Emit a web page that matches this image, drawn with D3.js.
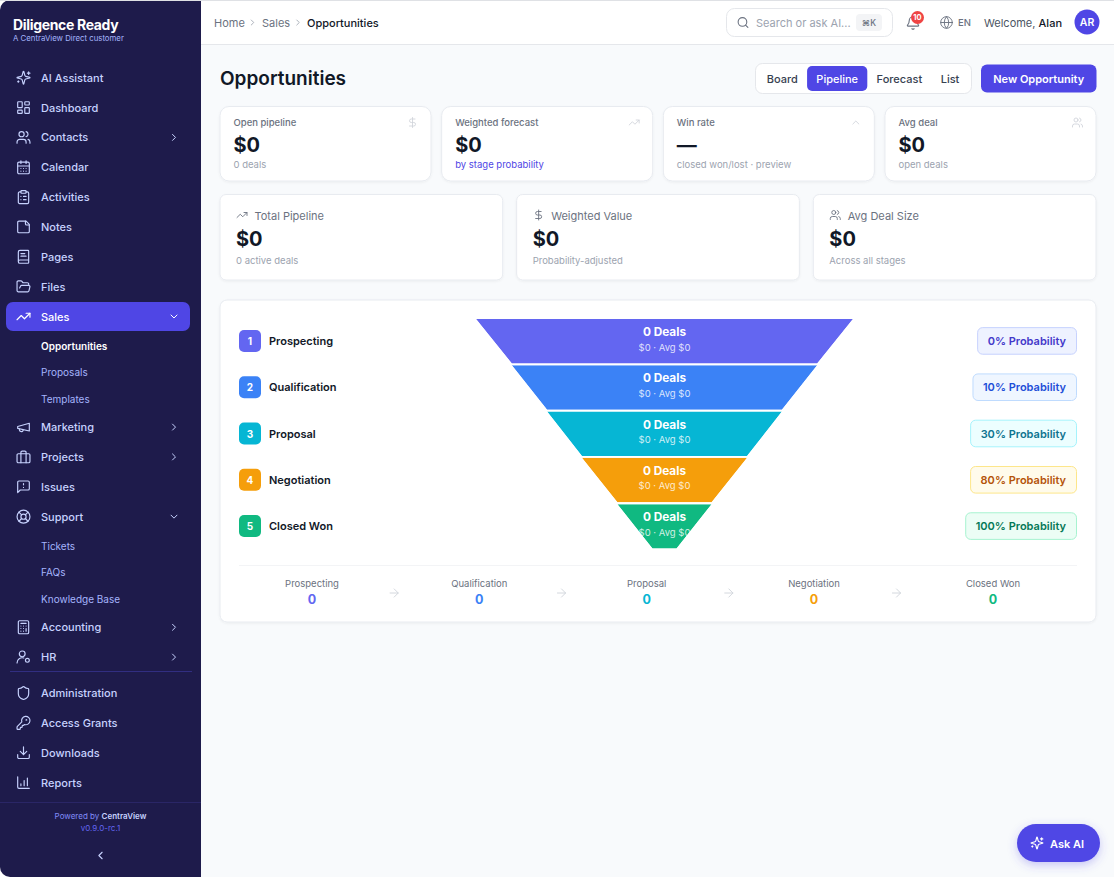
<!DOCTYPE html>
<html>
<head>
<meta charset="utf-8">
<title>Opportunities</title>
<script src="https://cdn.jsdelivr.net/npm/d3@7/dist/d3.min.js"></script>
<style>
  html, body { margin: 0; padding: 0; background: #fff; overflow: hidden; }
  svg { display: block; font-family: Inter, "Noto Sans", sans-serif; }
  text { dominant-baseline: central; }
</style>
</head>
<body>
<div id="chart"></div>
<script>
// ---- data ----
const stages = ['Prospecting', 'Qualification', 'Proposal', 'Negotiation', 'Closed Won'];
const stageColors = ['#6366f1', '#3b82f6', '#06b6d4', '#f59e0b', '#10b981'];
const stageDeals = [0, 0, 0, 0, 0];
const stageValues = [0, 0, 0, 0, 0];
const stageAvg = [0, 0, 0, 0, 0];
const stageProbability = [0, 10, 30, 80, 100];
// funnel outline width in percent of the top edge, one more entry than stages
const funnelEdges = [100, 81, 62.3, 43.8, 25, 6.4];

const pillFills = ['#eef2ff', '#eff6ff', '#ecfeff', '#fffbeb', '#ecfdf5'];
const pillBorders = ['#c7d2fe', '#bfdbfe', '#a5f3fc', '#fde68a', '#a7f3d0'];
const pillTexts = ['#4338ca', '#1d4ed8', '#0e7490', '#b45309', '#047857'];

const kpiLabels = ['Open pipeline', 'Weighted forecast', 'Win rate', 'Avg deal'];
const kpiValues = ['$0', '$0', '—', '$0'];
const kpiNotes = ['0 deals', 'by stage probability', 'closed won/lost · preview', 'open deals'];
const kpiIcons = ['dollar', 'trending', 'chevronUp', 'users'];

const totalLabels = ['Total Pipeline', 'Weighted Value', 'Avg Deal Size'];
const totalValues = ['$0', '$0', '$0'];
const totalNotes = ['0 active deals', 'Probability-adjusted', 'Across all stages'];
const totalIcons = ['trending', 'dollar', 'users'];

const viewTabs = ['Board', 'Pipeline', 'Forecast', 'List'];
const activeTab = 'Pipeline';

const navItems = [
  { label: 'AI Assistant', icon: 'sparkles' },
  { label: 'Dashboard', icon: 'dashboard' },
  { label: 'Contacts', icon: 'users', chevron: 'right' },
  { label: 'Calendar', icon: 'calendar' },
  { label: 'Activities', icon: 'clipboard' },
  { label: 'Notes', icon: 'note' },
  { label: 'Pages', icon: 'book' },
  { label: 'Files', icon: 'folder' },
  { label: 'Sales', icon: 'trending', chevron: 'down', active: true, children: ['Opportunities', 'Proposals', 'Templates'] },
  { label: 'Marketing', icon: 'megaphone', chevron: 'right' },
  { label: 'Projects', icon: 'briefcase', chevron: 'right' },
  { label: 'Issues', icon: 'message' },
  { label: 'Support', icon: 'lifebuoy', chevron: 'down', children: ['Tickets', 'FAQs', 'Knowledge Base'] },
  { label: 'Accounting', icon: 'calculator', chevron: 'right' },
  { label: 'HR', icon: 'usercog', chevron: 'right' }
];
const navAdmin = [
  { label: 'Administration', icon: 'shield' },
  { label: 'Access Grants', icon: 'key' },
  { label: 'Downloads', icon: 'download' },
  { label: 'Reports', icon: 'bars' }
];

// lucide style glyphs on a 24 box
const icons = {
  sparkles: '<path d="M9.937 15.5A2 2 0 0 0 8.5 14.063l-6.135-1.582a.5.5 0 0 1 0-.962L8.5 9.936A2 2 0 0 0 9.937 8.5l1.582-6.135a.5.5 0 0 1 .963 0L14.063 8.5A2 2 0 0 0 15.5 9.937l6.135 1.581a.5.5 0 0 1 0 .964L15.5 14.063a2 2 0 0 0-1.437 1.437l-1.582 6.135a.5.5 0 0 1-.963 0z"/><path d="M20 3v4M22 5h-4M4 17v2M5 18H3"/>',
  dashboard: '<rect x="3" y="3" width="7" height="9" rx="1"/><rect x="14" y="3" width="7" height="5" rx="1"/><rect x="14" y="12" width="7" height="9" rx="1"/><rect x="3" y="16" width="7" height="5" rx="1"/>',
  users: '<path d="M16 21v-2a4 4 0 0 0-4-4H6a4 4 0 0 0-4 4v2"/><circle cx="9" cy="7" r="4"/><path d="M22 21v-2a4 4 0 0 0-3-3.87M16 3.13a4 4 0 0 1 0 7.75"/>',
  calendar: '<path d="M8 2v4M16 2v4"/><rect x="3" y="4" width="18" height="18" rx="2"/><path d="M3 10h18M8 14h.01M12 14h.01M16 14h.01M8 18h.01M12 18h.01M16 18h.01"/>',
  clipboard: '<rect x="8" y="2" width="8" height="4" rx="1"/><path d="M16 4h2a2 2 0 0 1 2 2v14a2 2 0 0 1-2 2H6a2 2 0 0 1-2-2V6a2 2 0 0 1 2-2h2M12 11h4M12 16h4M8 11h.01M8 16h.01"/>',
  note: '<path d="M16 3H5a2 2 0 0 0-2 2v14a2 2 0 0 0 2 2h14a2 2 0 0 0 2-2V8Z"/><path d="M15 3v4a2 2 0 0 0 2 2h4"/>',
  book: '<path d="M4 19.5v-15A2.5 2.5 0 0 1 6.5 2H19a1 1 0 0 1 1 1v18a1 1 0 0 1-1 1H6.5a1 1 0 0 1 0-5H20"/><path d="M8 7h6M8 11h8"/>',
  folder: '<path d="m6 14 1.5-2.9A2 2 0 0 1 9.24 10H20a2 2 0 0 1 1.94 2.5l-1.54 6a2 2 0 0 1-1.95 1.5H4a2 2 0 0 1-2-2V5a2 2 0 0 1 2-2h3.9a2 2 0 0 1 1.69.9l.81 1.2a2 2 0 0 0 1.67.9H18a2 2 0 0 1 2 2v2"/>',
  trending: '<path d="M22 7 13.5 15.5 8.5 10.5 2 17"/><path d="M16 7h6v6"/>',
  megaphone: '<path d="m3 11 18-5v12L3 14v-3z"/><path d="M11.6 16.8a3 3 0 1 1-5.8-1.6"/>',
  briefcase: '<rect x="2" y="7" width="20" height="14" rx="2"/><path d="M16 21V5a2 2 0 0 0-2-2h-4a2 2 0 0 0-2 2v16"/>',
  message: '<path d="M21 15a2 2 0 0 1-2 2H7l-4 4V5a2 2 0 0 1 2-2h14a2 2 0 0 1 2 2z"/><path d="M12 7v2M12 13h.01"/>',
  lifebuoy: '<circle cx="12" cy="12" r="10"/><circle cx="12" cy="12" r="4"/><path d="m4.93 4.93 4.24 4.24M14.83 9.17l4.24-4.24M14.83 14.83l4.24 4.24M9.17 14.83l-4.24 4.24"/>',
  calculator: '<rect x="4" y="2" width="16" height="20" rx="2"/><path d="M8 6h8M16 14v4M8 10h.01M12 10h.01M16 10h.01M8 14h.01M12 14h.01M8 18h.01M12 18h.01"/>',
  usercog: '<circle cx="10" cy="7" r="4.5"/><path d="M2 21a8 8 0 0 1 10.4-7.6"/><circle cx="18" cy="17" r="3"/>',
  shield: '<path d="M20 13c0 5-3.5 7.5-7.66 8.95a1 1 0 0 1-.67-.01C7.5 20.5 4 18 4 13V6a1 1 0 0 1 1-1c2 0 4.5-1.2 6.24-2.72a1.17 1.17 0 0 1 1.52 0C14.51 3.81 17 5 19 5a1 1 0 0 1 1 1z"/>',
  key: '<path d="M2.586 17.414A2 2 0 0 0 2 18.828V21a1 1 0 0 0 1 1h3a1 1 0 0 0 1-1v-1a1 1 0 0 1 1-1h1a1 1 0 0 0 1-1v-1a1 1 0 0 1 1-1h.172a2 2 0 0 0 1.414-.586l.814-.814a6.5 6.5 0 1 0-4-4z"/><circle cx="16.5" cy="7.5" r=".5"/>',
  download: '<path d="M21 15v4a2 2 0 0 1-2 2H5a2 2 0 0 1-2-2v-4M7 10l5 5 5-5M12 15V3"/>',
  bars: '<path d="M3 3v16a2 2 0 0 0 2 2h16M13 17V9M18 17V5M8 17v-3"/>',
  right: '<path d="m9 18 6-6-6-6"/>',
  down: '<path d="m6 9 6 6 6-6"/>',
  left: '<path d="m15 18-6-6 6-6"/>',
  chevronUp: '<path d="m18 15-6-6-6 6"/>',
  search: '<circle cx="11" cy="11" r="8"/><path d="m21 21-4.3-4.3"/>',
  bell: '<path d="M10.268 21a2 2 0 0 0 3.464 0"/><path d="M3.262 15.326A1 1 0 0 0 4 17h16a1 1 0 0 0 .74-1.673C19.41 13.956 18 12.499 18 8A6 6 0 0 0 6 8c0 4.499-1.411 5.956-2.738 7.326"/>',
  globe: '<circle cx="12" cy="12" r="10"/><path d="M12 2a14.5 14.5 0 0 0 0 20 14.5 14.5 0 0 0 0-20M2 12h20"/>',
  dollar: '<path d="M12 2v20M17 5H9.5a3.5 3.5 0 0 0 0 7h5a3.5 3.5 0 0 1 0 7H6"/>',
  arrow: '<path d="M5 12h14M12 5l7 7-7 7"/>'
};

// ---- helpers ----
const width = 1114;
const height = 877;
const money = d3.format('$,.0f');

const svg = d3.select('#chart').append('svg')
  .attr('width', width)
  .attr('height', height)
  .attr('viewBox', [0, 0, width, height]);

const defs = svg.append('defs');
const askShadow = defs.append('filter').attr('id', 'askShadow')
  .attr('x', '-30%').attr('y', '-30%').attr('width', '160%').attr('height', '180%');
askShadow.append('feDropShadow').attr('dx', 0).attr('dy', 3).attr('stdDeviation', 5)
  .attr('flood-color', '#4f46e5').attr('flood-opacity', 0.3);
const cardShadow = defs.append('filter').attr('id', 'cardShadow')
  .attr('x', '-5%').attr('y', '-5%').attr('width', '110%').attr('height', '115%');
cardShadow.append('feDropShadow').attr('dx', 0).attr('dy', 1).attr('stdDeviation', 1.2)
  .attr('flood-color', '#0f172a').attr('flood-opacity', 0.05);

function label(parent, x, y, str, size, weight, fill, anchor) {
  return parent.append('text')
    .attr('x', x)
    .attr('y', y)
    .attr('font-size', size)
    .attr('font-weight', weight)
    .attr('fill', fill)
    .attr('text-anchor', anchor || 'start')
    .text(str);
}

function icon(parent, name, cx, cy, size, color, strokeWidth) {
  return parent.append('g')
    .attr('transform', `translate(${cx - size / 2},${cy - size / 2}) scale(${size / 24})`)
    .attr('fill', 'none')
    .attr('stroke', color)
    .attr('stroke-width', strokeWidth || 2)
    .attr('stroke-linecap', 'round')
    .attr('stroke-linejoin', 'round')
    .html(icons[name]);
}

function card(parent, x, y, w, h, r) {
  return parent.append('rect')
    .attr('x', x).attr('y', y).attr('width', w).attr('height', h).attr('rx', r)
    .attr('fill', '#fff')
    .attr('stroke', '#e8ebf0')
    .attr('filter', 'url(#cardShadow)');
}

// ---- page frame ----
svg.append('rect').attr('width', width).attr('height', height).attr('fill', '#f8fafc');
svg.append('rect').attr('width', width).attr('height', 44).attr('fill', '#fff');
svg.append('rect').attr('y', 44).attr('width', width).attr('height', 1).attr('fill', '#e5e7eb');
svg.append('rect').attr('width', 6).attr('height', height).attr('fill', '#fff');
svg.append('rect').attr('width', 240).attr('height', height).attr('rx', 10).attr('fill', '#1e1b4b');
svg.append('rect').attr('x', 201).attr('width', 45).attr('height', height).attr('fill', '#f8fafc');
svg.append('rect').attr('x', 201).attr('width', 45).attr('height', 44).attr('fill', '#fff');
svg.append('rect').attr('x', 201).attr('y', 44).attr('width', 45).attr('height', 1).attr('fill', '#e5e7eb');
svg.append('rect').attr('width', width).attr('height', 1).attr('fill', '#dfe1e5');

// ---- sidebar ----
const side = svg.append('g');
label(side, 13, 24.5, 'Diligence Ready', 14, 700, '#fff').attr('letter-spacing', -0.33);
label(side, 13, 38, 'A CentraView Direct customer', 7.8, 400, '#a5b4fc');

function drawNav(items, startY) {
  let y = startY;
  items.forEach(function(d) {
    if (d.active) {
      side.append('rect')
        .attr('x', 6).attr('y', y - 14.5).attr('width', 184).attr('height', 29).attr('rx', 7)
        .attr('fill', '#4f46e5');
    }
    const color = d.active ? '#fff' : '#c7d2fe';
    icon(side, d.icon, 23.5, y, 15.5, color, 1.8);
    label(side, 41, y, d.label, 11, 500, color);
    if (d.chevron) {
      icon(side, d.chevron, 174, y, 12, color, 2);
    }
    if (d.children) {
      y += 3.4;
      d.children.forEach(function(c) {
        y += 26.2;
        const isCurrent = c === 'Opportunities';
        label(side, 41, y, c, 10, isCurrent ? 600 : 400, isCurrent ? '#fff' : '#a5b4fc');
      });
      y += 28.6;
    } else {
      y += 29.85;
    }
  });
}
drawNav(navItems, 77.7);
drawNav(navAdmin, 693);

side.append('rect').attr('x', 10).attr('y', 671).attr('width', 182).attr('height', 1).attr('fill', '#312e81');
side.append('rect').attr('x', 0).attr('y', 802).attr('width', 201).attr('height', 1).attr('fill', '#2a2666');

const powered = label(side, 100.5, 815.5, 'Powered by ', 8, 400, '#818cf8', 'middle');
powered.append('tspan').attr('font-weight', 600).attr('fill', '#c7d2fe').text('CentraView');
label(side, 100.5, 827.5, 'v0.9.0-rc.1', 8, 400, '#6366f1', 'middle');
icon(side, 'left', 100.5, 855.5, 13, '#c7d2fe', 2);

// ---- top bar ----
const topBar = svg.append('g');
label(topBar, 214, 22.5, 'Home', 11, 400, '#6b7280');
icon(topBar, 'right', 252.5, 22.5, 10, '#9ca3af', 2);
label(topBar, 262, 22.5, 'Sales', 11, 400, '#6b7280');
icon(topBar, 'right', 298, 22.5, 10, '#9ca3af', 2);
label(topBar, 307, 22.5, 'Opportunities', 11, 500, '#111827');

topBar.append('rect').attr('x', 726.5).attr('y', 8.5).attr('width', 166).attr('height', 28).attr('rx', 8)
  .attr('fill', '#fff').attr('stroke', '#e5e7eb');
icon(topBar, 'search', 743, 22.5, 13, '#6b7280', 2);
label(topBar, 756, 22.5, 'Search or ask AI...', 11, 400, '#9ca3af');
topBar.append('rect').attr('x', 856).attr('y', 14).attr('width', 26).attr('height', 17).attr('rx', 4).attr('fill', '#f3f4f6');
label(topBar, 869, 22.5, '⌘K', 8.5, 500, '#6b7280', 'middle');

icon(topBar, 'bell', 913, 23, 15, '#6b7280', 1.8);
topBar.append('circle').attr('cx', 917.5).attr('cy', 17.5).attr('r', 6.5).attr('fill', '#ef4444');
label(topBar, 917.5, 17.5, '10', 7.5, 700, '#fff', 'middle');
icon(topBar, 'globe', 946.5, 22.5, 14, '#6b7280', 1.6);
label(topBar, 958, 22.5, 'EN', 9.5, 500, '#6b7280');
const welcome = label(topBar, 984, 22.5, 'Welcome, ', 11, 400, '#4b5563');
welcome.append('tspan').attr('font-weight', 500).attr('fill', '#111827').text('Alan');
topBar.append('circle').attr('cx', 1087).attr('cy', 22).attr('r', 12.5).attr('fill', '#4f46e5');
label(topBar, 1087, 22.5, 'AR', 10.5, 600, '#fff', 'middle');

// ---- heading and view switch ----
const head = svg.append('g');
label(head, 220, 78.5, 'Opportunities', 19, 600, '#111827');

head.append('rect').attr('x', 755.5).attr('y', 63.5).attr('width', 216).attr('height', 30).attr('rx', 7)
  .attr('fill', '#fff').attr('stroke', '#e5e7eb');

let tabX = 757.5;
viewTabs.forEach(function(t) {
  const isActive = t === activeTab;
  const tab = label(head, 0, 78.5, t, 11, 500, isActive ? '#fff' : '#374151', 'middle');
  const w = tab.node().getComputedTextLength() + 18.5;
  if (isActive) {
    head.insert('rect', () => tab.node())
      .attr('x', tabX).attr('y', 66).attr('width', w).attr('height', 25).attr('rx', 5)
      .attr('fill', '#4f46e5');
  }
  tab.attr('x', tabX + w / 2);
  tabX += w;
});

head.append('rect').attr('x', 981).attr('y', 64.5).attr('width', 115.5).attr('height', 28).attr('rx', 6).attr('fill', '#4f46e5');
label(head, 1038.7, 78.5, 'New Opportunity', 11, 600, '#fff', 'middle');

// ---- kpi cards ----
const kpiX = d3.scaleBand().domain(kpiLabels).range([220, 1096]).paddingInner(0.048);
const kpi = svg.append('g');
kpiLabels.forEach(function(d, i) {
  const x = kpiX(d);
  const w = kpiX.bandwidth();
  card(kpi, x, 106.5, w, 74.5, 9);
  label(kpi, x + 13.5, 122.5, d, 9.5, 500, '#6b7280');
  icon(kpi, kpiIcons[i], x + w - 18.5, 122.5, 12, '#d1d5db', 1.8);
  label(kpi, x + 13.5, 144.5, kpiValues[i], 20, 700, '#111827');
  label(kpi, x + 13.5, 164.7, kpiNotes[i], 9.5, 400, i === 1 ? '#4f46e5' : '#9ca3af');
});

const totalX = d3.scaleBand().domain(totalLabels).range([220, 1096]).paddingInner(0.047);
const totals = svg.append('g');
totalLabels.forEach(function(d, i) {
  const x = totalX(d);
  card(totals, x, 194.5, totalX.bandwidth(), 85.5, 6);
  icon(totals, totalIcons[i], x + 22, 215, 12, '#6b7280', 1.8);
  label(totals, x + 34.5, 215.5, d, 11, 400, '#6b7280');
  label(totals, x + 16, 238.5, totalValues[i], 20, 700, '#111827');
  label(totals, x + 16, 260.8, totalNotes[i], 9.5, 400, '#9ca3af');
});

// ---- funnel panel ----
const panel = svg.append('g');
card(panel, 220, 300, 876, 322, 7);

const funnelY = d3.scaleBand().domain(stages).range([319, 548.6]).paddingInner(0.04);
const funnelW = d3.scaleLinear().domain([0, 100]).range([0, 377]);
const funnelCx = 664.5;

function funnelPoints(i) {
  const topY = funnelY(stages[i]);
  const botY = topY + funnelY.bandwidth();
  const a = funnelW(funnelEdges[i]) / 2;
  const b = funnelW(funnelEdges[i + 1]) / 2;
  return [[funnelCx - a, topY], [funnelCx + a, topY], [funnelCx + b, botY], [funnelCx - b, botY]];
}

const slices = panel.append('g').selectAll('g')
  .data(stages)
  .join('g');

slices.each(function(d, i) {
  const pts = funnelPoints(i).join(' ');
  defs.append('clipPath').attr('id', 'slice' + i).append('polygon').attr('points', pts);
  const g = d3.select(this).attr('clip-path', `url(#slice${i})`);
  const cy = funnelY(d);
  g.append('polygon').attr('points', pts).attr('fill', stageColors[i]);
  label(g, funnelCx, cy + 13, `${stageDeals[i]} Deals`, 11.8, 700, '#fff', 'middle');
  label(g, funnelCx, cy + 28, `${money(stageValues[i])} · Avg ${money(stageAvg[i])}`, 9.5, 400, 'rgba(255,255,255,0.8)', 'middle');
});

// stage names and probability pills either side of the funnel
stages.forEach(function(d, i) {
  const cy = funnelY(d) + funnelY.bandwidth() / 2 - 0.3;
  panel.append('rect').attr('x', 239).attr('y', cy - 11).attr('width', 22).attr('height', 22).attr('rx', 5).attr('fill', stageColors[i]);
  label(panel, 250, cy, i + 1, 10, 700, '#fff', 'middle');
  label(panel, 269, cy, d, 11, 600, '#111827');

  const pillText = label(panel, 1066, cy, `${stageProbability[i]}% Probability`, 11, 600, pillTexts[i], 'end');
  const w = pillText.node().getComputedTextLength() + 20.5;
  panel.insert('rect', () => pillText.node())
    .attr('x', 1076.5 - w).attr('y', cy - 13.3).attr('width', w).attr('height', 26.6).attr('rx', 5)
    .attr('fill', pillFills[i]).attr('stroke', pillBorders[i]);
});

// stage summary row
panel.append('rect').attr('x', 239).attr('y', 565).attr('width', 838).attr('height', 1).attr('fill', '#f3f4f6');
const summaryX = d3.scaleLinear().domain([0, 3, 3.5, 4]).range([312, 814, 898, 993]);
stages.forEach(function(d, i) {
  label(panel, summaryX(i), 583, d, 9.5, 400, '#6b7280', 'middle');
  label(panel, summaryX(i), 599, stageDeals[i], 12.5, 700, stageColors[i], 'middle');
  if (i < stages.length - 1) {
    icon(panel, 'arrow', summaryX(i + 0.5) - 1.5, 593, 14, '#d1d5db', 1.6);
  }
});

// ---- floating button ----
const ask = svg.append('g');
ask.append('rect').attr('x', 1017).attr('y', 824).attr('width', 83).attr('height', 38).attr('rx', 19)
  .attr('fill', '#4f46e5').attr('filter', 'url(#askShadow)');
icon(ask, 'sparkles', 1037, 843, 14, '#fff', 2);
label(ask, 1050, 843.5, 'Ask AI', 11, 600, '#fff');
</script>
</body>
</html>
